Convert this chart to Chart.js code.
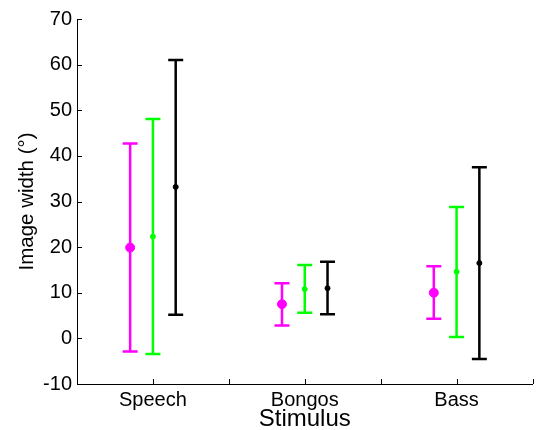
<!DOCTYPE html>
<html>
<head>
<meta charset="utf-8">
<script src="https://cdn.jsdelivr.net/npm/chart.js@4.4.0/dist/chart.umd.min.js"></script>
<style>
  html, body { margin: 0; padding: 0; background: #fff; }
</style>
</head>
<body>
<canvas id="chart" width="538" height="430"></canvas>
<script>
// Data
const categories = ['Speech', 'Bongos', 'Bass'];

const magentaMean = [19.9, 7.5, 10.0];
const magentaLow  = [-2.9, 2.8, 4.3];
const magentaHigh = [42.7, 12.1, 15.8];

const greenMean = [22.3, 10.8, 14.6];
const greenLow  = [-3.4, 5.6, 0.3];
const greenHigh = [48.1, 16.1, 28.8];

const blackMean = [33.2, 11.0, 16.5];
const blackLow  = [5.2, 5.3, -4.5];
const blackHigh = [61.0, 16.8, 37.5];

const yTicks = [-10, 0, 10, 20, 30, 40, 50, 60, 70];

const FONT = 'Liberation Sans, Arial, Helvetica, sans-serif';

// spread of the three series inside a category (category units)
const seriesOffsets = [-0.15, 0, 0.15];

function makeSeries(means, lows, highs, offset, color, radius) {
  return {
    data: means.map((m, i) => ({ x: i + 1 + offset, y: m })),
    low: lows,
    high: highs,
    showLine: false,
    pointRadius: radius,
    pointHoverRadius: radius,
    pointBackgroundColor: color,
    pointBorderColor: color,
    pointBorderWidth: 1,
    barColor: color
  };
}

// Draw vertical error bars with caps, using the chart's own scales
const errorBars = {
  id: 'errorBars',
  beforeDatasetsDraw(chart) {
    const ctx = chart.ctx;
    const xs = chart.scales.x;
    const ys = chart.scales.y;
    const cap = 7.5;
    chart.data.datasets.forEach(ds => {
      ctx.save();
      ctx.strokeStyle = ds.barColor;
      ctx.lineWidth = 2.5;
      ds.data.forEach((p, i) => {
        const x = xs.getPixelForValue(p.x);
        const yLo = ys.getPixelForValue(ds.low[i]);
        const yHi = ys.getPixelForValue(ds.high[i]);
        ctx.beginPath();
        ctx.moveTo(x, yLo);
        ctx.lineTo(x, yHi);
        ctx.moveTo(x - cap, yLo);
        ctx.lineTo(x + cap, yLo);
        ctx.moveTo(x - cap, yHi);
        ctx.lineTo(x + cap, yHi);
        ctx.stroke();
      });
      ctx.restore();
    });
  }
};

// MATLAB style ticks pointing into the plot
const innerTicks = {
  id: 'innerTicks',
  afterDraw(chart) {
    const ctx = chart.ctx;
    const area = chart.chartArea;
    const xs = chart.scales.x;
    const ys = chart.scales.y;
    ctx.save();
    ctx.strokeStyle = '#000';
    ctx.lineWidth = 1;
    ctx.beginPath();
    ys.ticks.forEach(t => {
      const y = Math.round(ys.getPixelForValue(t.value)) + 0.5;
      ctx.moveTo(area.left, y);
      ctx.lineTo(area.left + 5, y);
    });
    xs.ticks.forEach(t => {
      const x = Math.round(xs.getPixelForValue(t.value)) + 0.5;
      ctx.moveTo(x, area.bottom);
      ctx.lineTo(x, area.bottom - 5);
    });
    ctx.stroke();
    ctx.restore();
  }
};

new Chart(document.getElementById('chart'), {
  type: 'scatter',
  data: {
    datasets: [
      makeSeries(magentaMean, magentaLow, magentaHigh, seriesOffsets[0], '#ff00ff', 4.5),
      makeSeries(greenMean, greenLow, greenHigh, seriesOffsets[1], '#00ff00', 2.5),
      makeSeries(blackMean, blackLow, blackHigh, seriesOffsets[2], '#000000', 2.5)
    ]
  },
  options: {
    responsive: false,
    animation: false,
    layout: { padding: { top: 19, right: 2, left: 0, bottom: 0 } },
    plugins: {
      legend: { display: false },
      tooltip: { enabled: false }
    },
    scales: {
      x: {
        type: 'linear',
        min: 0.5,
        max: 3.5,
        afterFit(scale) { scale.height = 46; },
        afterBuildTicks(scale) {
          scale.ticks = [0.5, 1, 1.5, 2, 2.5, 3, 3.5].map(v => ({ value: v }));
        },
        grid: { display: true, drawOnChartArea: false, drawTicks: false },
        border: { display: true, color: '#000', width: 1 },
        ticks: {
          autoSkip: false,
          maxRotation: 0,
          padding: 4,
          color: '#000',
          font: { family: FONT, size: 20 },
          callback(v) {
            return Number.isInteger(v) ? categories[v - 1] : '';
          }
        },
        title: {
          display: true,
          text: 'Stimulus',
          color: '#000',
          font: { family: FONT, size: 24, lineHeight: 1 },
          padding: { top: 0, bottom: -1.5 }
        }
      },
      y: {
        min: -10,
        max: 70,
        afterFit(scale) { scale.width = 77; },
        afterBuildTicks(scale) {
          scale.ticks = yTicks.map(v => ({ value: v }));
        },
        grid: { display: true, drawOnChartArea: false, drawTicks: false },
        border: { display: true, color: '#000', width: 1 },
        ticks: {
          padding: 5,
          color: '#000',
          font: { family: FONT, size: 20 }
        },
        title: {
          display: true,
          text: 'Image width (°)',
          color: '#000',
          font: { family: FONT, size: 20.5, lineHeight: 1.2 },
          padding: { top: 15, bottom: 0 }
        }
      }
    }
  },
  plugins: [errorBars, innerTicks]
});
</script>
</body>
</html>
